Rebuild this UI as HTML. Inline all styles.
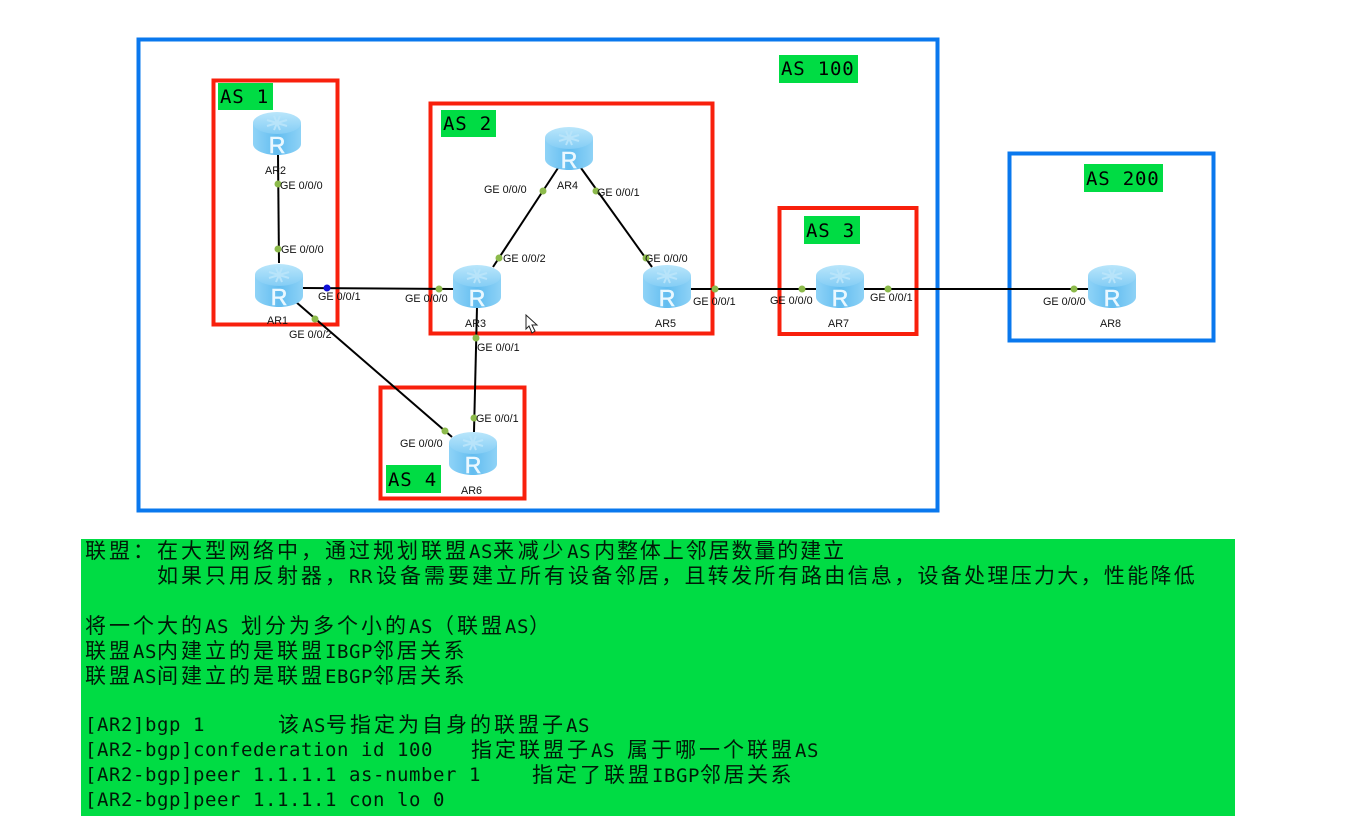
<!DOCTYPE html>
<html lang="zh">
<head>
<meta charset="utf-8">
<title>BGP联盟</title>
<style>
html,body{margin:0;padding:0;background:#fff;width:1360px;height:833px;overflow:hidden}
svg{position:absolute;left:0;top:0}
.l{position:absolute;white-space:pre;height:25px;line-height:25px;font-family:"DejaVu Sans Mono","Liberation Mono","Noto Sans CJK SC",monospace;font-size:19px;letter-spacing:.56px;color:#001a08}
.l b{font-weight:400;font-family:"Liberation Sans","Noto Sans CJK SC",sans-serif;font-size:21px;letter-spacing:3px}
.l b.n{letter-spacing:2.5px}
.t{font-family:"Liberation Sans",sans-serif;font-size:10.8px;fill:#111}
.a{font-family:"DejaVu Sans Mono","Liberation Mono",monospace;font-size:19px;letter-spacing:.8px;fill:#000}
.r{font-family:"Liberation Sans",sans-serif;font-size:23px;fill:#eaf8ff;stroke:#eaf8ff;stroke-width:.6;text-anchor:middle}
</style>
</head>
<body>
<svg width="1360" height="833" viewBox="0 0 1360 833" xmlns="http://www.w3.org/2000/svg">
<defs>
<linearGradient id="side" x1="0" x2="1" y1="0" y2="0">
<stop offset="0" stop-color="#8fd3f7"/><stop offset=".5" stop-color="#63bdf0"/><stop offset="1" stop-color="#8ed2f6"/>
</linearGradient>
<linearGradient id="top" x1="0" x2="0" y1="0" y2="1">
<stop offset="0" stop-color="#b9e6fb"/><stop offset="1" stop-color="#84cdf5"/>
</linearGradient>
<g id="router">
<path d="M-24 11 V32 C-24 38 -13 43 0 43 C13 43 24 38 24 32 V11 Z" fill="url(#side)"/>
<ellipse cx="0" cy="11" rx="24" ry="11" fill="url(#top)"/>
<path d="M-10 8 L10 14 M-10 14 L10 8 M-3 4 L3 18 M3 4 L-3 18" stroke="#b8e4fa" stroke-width="2" fill="none"/>
</g>
</defs>

<!-- boxes -->
<g fill="none" stroke-width="4">
<rect x="138.500" y="39.500" width="799" height="471" stroke="#0a78ee"/>
<rect x="1009.500" y="153.500" width="204" height="187" stroke="#0a78ee"/>
<rect x="213.500" y="80.500" width="124" height="244" stroke="#f8200c"/>
<rect x="430.500" y="103.500" width="282" height="230" stroke="#f8200c"/>
<rect x="779.500" y="208" width="137" height="126" stroke="#f8200c"/>
<rect x="380.500" y="387.500" width="144" height="111" stroke="#f8200c"/>
</g>

<!-- green labels -->
<g fill="#00dc44">
<rect x="218" y="83" width="55" height="27"/>
<rect x="441" y="110" width="55" height="27"/>
<rect x="779" y="55" width="79" height="28"/>
<rect x="804" y="216" width="56" height="28"/>
<rect x="386" y="465" width="55" height="28"/>
<rect x="1084" y="164" width="79" height="28"/>
</g>
<text class="a" x="220" y="103">AS 1</text>
<text class="a" x="443" y="130">AS 2</text>
<text class="a" x="781" y="75">AS 100</text>
<text class="a" x="806" y="237">AS 3</text>
<text class="a" x="388" y="486">AS 4</text>
<text class="a" x="1086" y="185">AS 200</text>

<!-- links -->
<g stroke="#000" stroke-width="2" fill="none">
<path d="M278 155 L279 263"/>
<path d="M303 288 L453 289"/>
<path d="M296 302 L452 437"/>
<path d="M477 307 L474 432"/>
<path d="M493 267 L558 168"/>
<path d="M581 168 L652 267"/>
<path d="M691 289 L816 289"/>
<path d="M864 289 L1088 289"/>
</g>

<!-- routers -->
<use href="#router" x="277" y="112"/><text class="r" x="277" y="153">R</text>
<use href="#router" x="279" y="264"/><text class="r" x="279" y="305">R</text>
<use href="#router" x="477" y="265"/><text class="r" x="477" y="306">R</text>
<use href="#router" x="569" y="127"/><text class="r" x="569" y="168">R</text>
<use href="#router" x="667" y="265"/><text class="r" x="667" y="306">R</text>
<use href="#router" x="473" y="432"/><text class="r" x="473" y="473">R</text>
<use href="#router" x="840" y="265"/><text class="r" x="840" y="306">R</text>
<use href="#router" x="1112" y="265"/><text class="r" x="1112" y="306">R</text>

<!-- port dots -->
<g fill="#8cba4b">
<circle cx="278" cy="184" r="3.500"/><circle cx="278" cy="249" r="3.500"/>
<circle cx="439" cy="289" r="3.500"/><circle cx="315" cy="319" r="3.500"/>
<circle cx="476" cy="338" r="3.500"/><circle cx="474" cy="418" r="3.500"/>
<circle cx="445" cy="431" r="3.500"/><circle cx="543" cy="191" r="3.500"/>
<circle cx="596" cy="191" r="3.500"/><circle cx="499" cy="258" r="3.500"/>
<circle cx="646" cy="258" r="3.500"/><circle cx="715" cy="289" r="3.500"/>
<circle cx="802" cy="289" r="3.500"/><circle cx="888" cy="289" r="3.500"/>
<circle cx="1074" cy="289" r="3.500"/>
</g>
<circle cx="327" cy="288" r="3.500" fill="#1010d8"/>

<!-- text labels -->
<g class="t">
<text class="t" x="265" y="174">AR2</text>
<text class="t" x="280" y="189">GE 0/0/0</text>
<text class="t" x="281" y="253">GE 0/0/0</text>
<text class="t" x="318" y="300">GE 0/0/1</text>
<text class="t" x="267" y="324">AR1</text>
<text class="t" x="289" y="338">GE 0/0/2</text>
<text class="t" x="405" y="302">GE 0/0/0</text>
<text class="t" x="465" y="327">AR3</text>
<text class="t" x="503" y="262">GE 0/0/2</text>
<text class="t" x="484" y="193">GE 0/0/0</text>
<text class="t" x="557" y="189">AR4</text>
<text class="t" x="597" y="196">GE 0/0/1</text>
<text class="t" x="645" y="262">GE 0/0/0</text>
<text class="t" x="655" y="327">AR5</text>
<text class="t" x="693" y="305">GE 0/0/1</text>
<text class="t" x="770" y="304">GE 0/0/0</text>
<text class="t" x="828" y="327">AR7</text>
<text class="t" x="870" y="301">GE 0/0/1</text>
<text class="t" x="1043" y="305">GE 0/0/0</text>
<text class="t" x="1100" y="327">AR8</text>
<text class="t" x="477" y="351">GE 0/0/1</text>
<text class="t" x="476" y="422">GE 0/0/1</text>
<text class="t" x="400" y="447">GE 0/0/0</text>
<text class="t" x="461" y="494">AR6</text>
</g>

<!-- cursor -->
<path d="M526 315 V329 L529 326 L532 333 L535 331 L532 325 L537 325 Z" fill="#fff" stroke="#222" stroke-width="1"/>

<!-- text panel background -->
<rect x="81" y="539" width="1154" height="277" fill="#00dc44"/>
</svg>

<div class="l" style="left:85px;top:539px"><b>联盟：在大型网络中，通过规划联盟</b>AS<b style="letter-spacing:3.7px">来减少</b>AS<b style="margin-left:3px;letter-spacing:1.9px">内整体上邻居数量的建立</b></div>
<div class="l" style="left:157px;top:564px"><b>如果只用反射器，</b>RR<b style="margin-left:3px">设备需要建立所有</b><b style="letter-spacing:2.3px">设备邻居，且转发所有路由信息，设备处理压力大，性能降低</b></div>
<div class="l" style="left:85px;top:614px"><b>将一个大的</b>AS <b>划分为多个小的</b>AS<b>（联盟</b>AS<b>）</b></div>
<div class="l" style="left:85px;top:639px"><b>联盟</b>AS<b>内建立的是联盟</b>IBGP<b class="n">邻居关系</b></div>
<div class="l" style="left:85px;top:664px"><b>联盟</b>AS<b>间建立的是联盟</b>EBGP<b class="n">邻居关系</b></div>
<div class="l" style="left:85px;top:713px">[AR2]bgp 1</div>
<div class="l" style="left:278px;top:713px"><b>该</b>AS<b>号指定为自身的联盟子</b>AS</div>
<div class="l" style="left:85px;top:738px">[AR2-bgp]confederation id 100</div>
<div class="l" style="left:471px;top:738px"><b>指定联盟子</b>AS <b>属于哪一个联盟</b>AS</div>
<div class="l" style="left:85px;top:763px">[AR2-bgp]peer 1.1.1.1 as-number 1</div>
<div class="l" style="left:532px;top:763px"><b>指定了联盟</b>IBGP<b class="n">邻居关系</b></div>
<div class="l" style="left:85px;top:788px">[AR2-bgp]peer 1.1.1.1 con lo 0</div>
</body>
</html>
